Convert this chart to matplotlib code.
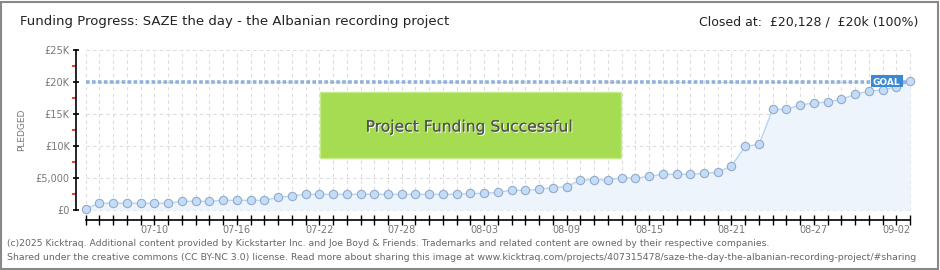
import matplotlib
matplotlib.use("Agg")
import matplotlib.pyplot as plt
from matplotlib.patches import Rectangle
import matplotlib.patheffects as pe
from matplotlib import font_manager

# ---- data ----
dates = ["07-05","07-06","07-07","07-08","07-09","07-10","07-11","07-12","07-13","07-14",
         "07-15","07-16","07-17","07-18","07-19","07-20","07-21","07-22","07-23","07-24",
         "07-25","07-26","07-27","07-28","07-29","07-30","07-31","08-01","08-02","08-03",
         "08-04","08-05","08-06","08-07","08-08","08-09","08-10","08-11","08-12","08-13",
         "08-14","08-15","08-16","08-17","08-18","08-19","08-20","08-21","08-22","08-23",
         "08-24","08-25","08-26","08-27","08-28","08-29","08-30","08-31","09-01","09-02",
         "09-03"]
pledged = [200, 1050, 1050, 1050, 1050, 1050, 1050, 1360, 1360, 1360,
           1520, 1520, 1520, 1520, 1980, 2190, 2450, 2450, 2450, 2450,
           2450, 2450, 2450, 2450, 2450, 2450, 2450, 2450, 2600, 2600,
           2770, 3080, 3080, 3240, 3500, 3660, 4700, 4700, 4700, 5060,
           4960, 5270, 5590, 5590, 5590, 5740, 5900, 6890, 9970, 10280,
           15760, 15760, 16440, 16760, 16910, 17330, 18100, 18640, 18800, 19300,
           20128]
goal = 20000
ytick_vals = [0, 5000, 10000, 15000, 20000, 25000]
ytick_labels = ["£0", "£5,000", "£10K", "£15K", "£20K", "£25K"]
xlabel_every = 6
xlabel_start = 5

title = "Funding Progress: SAZE the day - the Albanian recording project"
status = "Closed at:  £20,128 /  £20k (100%)"
footer1 = ("(c)2025 Kicktraq. Additional content provided by Kickstarter Inc. and Joe Boyd & Friends. "
           "Trademarks and related content are owned by their respective companies.")
footer2 = ("Shared under the creative commons (CC BY-NC 3.0) license. Read more about sharing this image at "
           "www.kicktraq.com/projects/407315478/saze-the-day-the-albanian-recording-project/#sharing")

names = {f.name for f in font_manager.fontManager.ttflist}
is_narrow = "Liberation Sans Narrow" in names
narrow = ["Liberation Sans Narrow", "DejaVu Sans"] if is_narrow else ["DejaVu Sans"]

W, H = 940, 270
fig = plt.figure(figsize=(W / 100, H / 100), dpi=100)
fig.patch.set_facecolor("white")

# outer border
fig.add_artist(Rectangle((0.5 / W, 1.5 / H), (W - 2.5) / W, (H - 3) / H, transform=fig.transFigure,
                         fill=False, edgecolor="#888888", linewidth=1.5))

# axes geometry in pixels
x0px, dx = 85.7, 13.74
y0px, dyk = 210.0, 6.385 / 1000.0
ax_left, ax_right, ax_top, ax_bottom = 76, 916, 50, 220
ax = fig.add_axes([ax_left / W, 1 - ax_bottom / H, (ax_right - ax_left) / W, (ax_bottom - ax_top) / H])
ax.set_xlim((ax_left - x0px) / dx, (ax_right - x0px) / dx)
ax.set_ylim((y0px - ax_bottom) / dyk, (y0px - ax_top) / dyk)

n = len(pledged)
xs = list(range(n))
grid_c = "#dcdcdc"
ax.hlines(ytick_vals, 0, n - 1, colors=grid_c, linestyles=(0, (3, 3)), linewidth=0.8, zorder=1)
ax.vlines(xs, 0, 25000, colors=grid_c, linestyles=(0, (3, 3)), linewidth=0.8, zorder=1)

ax.fill_between(xs, pledged, 0, color="#edf4fc", zorder=2, linewidth=0)
ax.plot(xs, pledged, color="#b6d4f2", linewidth=1.0, zorder=3)
ax.plot([0, n - 1], [goal, goal], color="#8fb1db", linewidth=2.6,
        linestyle=(0, (1.0, 0.65)), zorder=3)
ax.plot(xs, pledged, linestyle="none", marker="o", markersize=6.0,
        markerfacecolor="#c3dcf7", markeredgecolor="#93abc9", markeredgewidth=0.8, zorder=5)

# spines
for s in ["top", "right"]:
    ax.spines[s].set_visible(False)
ax.spines["left"].set_bounds(0, 25000)
ax.spines["bottom"].set_bounds(0, n - 1)
ax.spines["left"].set_linewidth(1.2)
ax.spines["bottom"].set_linewidth(1.2)

ax.set_yticks(ytick_vals)
ax.set_yticklabels(ytick_labels)
ax.set_yticks([v + 2500 for v in ytick_vals[:-1]], minor=True)
ax.tick_params(axis="y", which="major", direction="inout", length=5, width=1.2, color="black",
               labelsize=7, labelcolor="#777777", pad=2)
ax.tick_params(axis="y", which="minor", direction="out", length=3, width=1.2, color="#e02020")

ax.set_xticks(xs)
ax.set_xticklabels([d if (i - xlabel_start) % xlabel_every == 0 and i >= xlabel_start else ""
                    for i, d in enumerate(dates)])
ax.tick_params(axis="x", which="major", direction="inout", length=7, width=1.0, color="black",
               labelsize=7, labelcolor="#777777", pad=0)
ax.set_facecolor("none")

fig.text(22 / W, 1 - 130 / H, "PLEDGED", rotation=90, ha="center", va="center",
         fontsize=6.5, color="#777777")

# GOAL label
ax.add_patch(Rectangle(((871 - x0px) / dx, (y0px - 87) / dyk),
                       32 / dx, 12 / dyk, facecolor="#3a89d6", edgecolor="none", zorder=6))
ax.text((886 - x0px) / dx, goal, "GOAL", color="white", fontsize=6.5, ha="center", va="center",
        zorder=7, fontweight="bold")

# success box
fig.add_artist(Rectangle((319.5 / W, 1 - 158 / H), 301 / W, 66 / H, transform=fig.transFigure,
                         facecolor="#a6dc52", edgecolor="#c4ea8a", linewidth=1.0, zorder=10))
t = fig.text(469 / W, 1 - 127 / H, "Project Funding Successful", ha="center", va="center",
             fontsize=12.3 if is_narrow else 11.2, color="#555555", zorder=11, family=narrow)
t.set_path_effects([pe.withSimplePatchShadow(offset=(0.8, -0.8), shadow_rgbFace="white", alpha=0.9),
                    pe.Normal()])

fig.text(20 / W, 1 - 22 / H, title, ha="left", va="center",
         fontsize=12.5 if is_narrow else 9.5, color="#222222", family=narrow)
fig.text(918 / W, 1 - 22 / H, status, ha="right", va="center",
         fontsize=12.0 if is_narrow else 9.0, color="#222222", family=narrow)

fig.text(7 / W, 1 - 243 / H, footer1, ha="left", va="center", fontsize=6.7, color="#666666")
fig.text(7 / W, 1 - 257 / H, footer2, ha="left", va="center", fontsize=6.75, color="#666666")

fig.savefig("out.png", dpi=100, facecolor="white")
